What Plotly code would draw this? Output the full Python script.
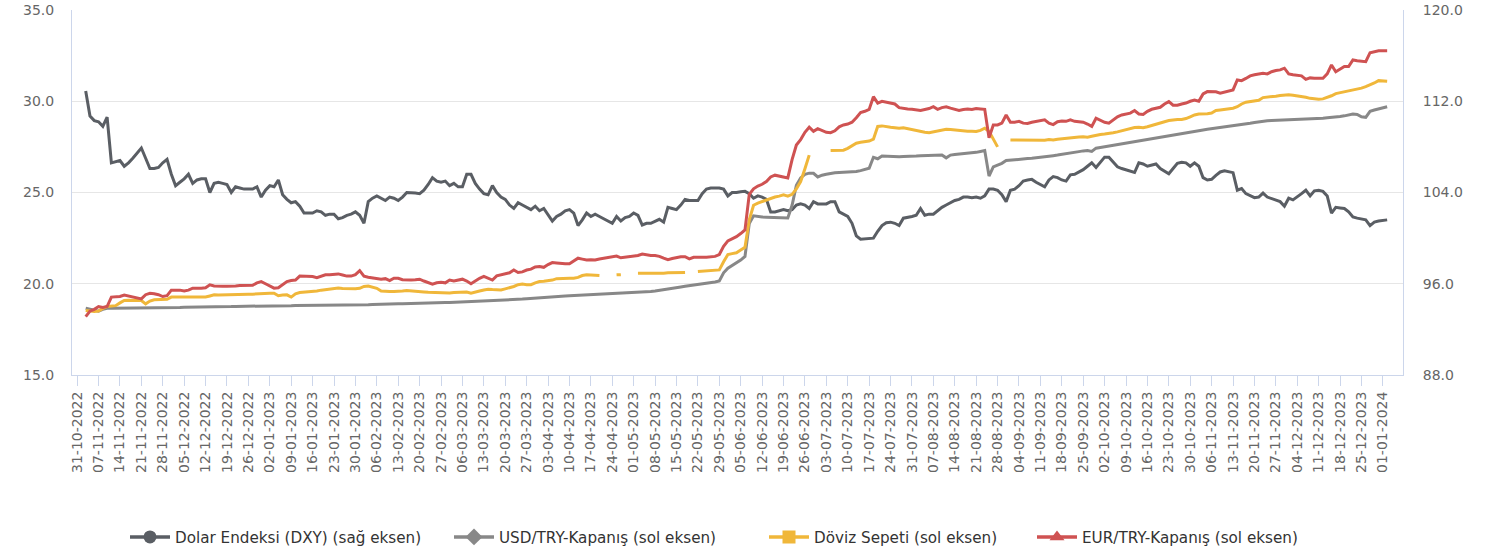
import pandas as pd
import plotly.graph_objects as go

# ---- categories (business days) ----
START_DATE = "2022-10-31"
N_CATS = 311
categories = list(pd.bdate_range(start=START_DATE, periods=N_CATS).strftime("%d-%m-%Y"))
FIRST, LAST = 2, 306            # first / last category carrying data
dates = categories[FIRST:LAST + 1]
tick_labels = categories[0:LAST:5]

# ---- series values ----
dxy = [
    112.9, 110.7, 110.3,
    110.2, 109.8, 110.6, 106.6, 106.7,
    106.8, 106.3, 106.6, 107.0, 107.5,
    107.9, 107.0, 106.1, 106.1, 106.2,
    106.6, 106.9, 105.6, 104.6, 104.9,
    105.2, 105.6, 104.8, 105.1, 105.2,
    105.2, 104.0, 104.8, 104.9, 104.8,
    104.7, 104.0, 104.5, 104.4, 104.3,
    104.3, 104.3, 104.5, 103.6, 104.2,
    104.6, 104.5, 105.1, 103.8, 103.4,
    103.1, 103.2, 102.8, 102.2, 102.2,
    102.2, 102.4, 102.3, 102.0, 102.1,
    102.1, 101.7, 101.8, 102.0, 102.1,
    102.3, 102.0, 101.3, 103.2, 103.5,
    103.7, 103.5, 103.3, 103.6, 103.5,
    103.3, 103.6, 104.0, 104.0, 103.95,
    103.9, 104.2, 104.7, 105.3, 105.0,
    104.9, 105.0, 104.6, 104.8, 104.5,
    104.5, 105.6, 105.6, 104.8, 104.3,
    103.9, 103.8, 104.6, 104.0, 103.6,
    103.4, 102.9, 102.6, 103.1, 102.9,
    102.7, 102.5, 102.8, 102.4, 102.6,
    102.0, 101.5, 101.9, 102.1, 102.4,
    102.5, 102.2, 101.1, 101.6, 102.2,
    101.9, 102.1, 101.9, 101.7, 101.5,
    101.3, 101.9, 101.5, 101.8, 101.9,
    102.2, 102.0, 101.15, 101.3, 101.3,
    101.5, 101.65, 101.4, 102.7, 102.6,
    102.5, 102.9, 103.4, 103.3, 103.3,
    103.3, 103.9, 104.3, 104.4, 104.4,
    104.4, 104.3, 103.7, 104.0, 104.0,
    104.07, 104.1, 103.9, 103.5, 103.7,
    103.6, 103.4, 102.3, 102.3, 102.4,
    102.5, 102.4, 102.5, 102.9, 103.0,
    102.9, 102.6, 103.2, 103.0, 103.0,
    103.0, 103.2, 103.2, 102.3, 102.1,
    101.9, 101.3, 100.2, 99.9, 99.95,
    100.0, 100.0, 100.6, 101.1, 101.35,
    101.4, 101.3, 101.1, 101.75, 101.8,
    101.9, 102.0, 102.6, 102.0, 102.1,
    102.1, 102.4, 102.7, 102.9, 103.1,
    103.3, 103.4, 103.6, 103.6, 103.55,
    103.6, 103.5, 103.7, 104.3, 104.3,
    104.2, 103.8, 103.2, 104.2, 104.3,
    104.6, 105.0, 105.1, 105.15, 104.9,
    104.7, 104.5, 105.1, 105.4, 105.3,
    105.1, 105.0, 105.55, 105.6, 105.8,
    106.0, 106.3, 106.6, 106.2, 106.7,
    107.1, 107.1, 106.7, 106.25, 106.1,
    106.0, 105.9, 105.75, 106.6, 106.5,
    106.3, 106.4, 106.5, 106.1, 105.9,
    105.65, 106.1, 106.55, 106.65, 106.6,
    106.3, 106.6, 106.3, 105.3, 105.1,
    105.16, 105.5, 105.8, 105.9, 105.8,
    105.74, 104.2, 104.35, 103.9, 103.7,
    103.55, 103.6, 103.95, 103.6, 103.45,
    103.35, 103.2, 102.8, 103.5, 103.35,
    103.6, 103.9, 104.2, 103.7, 104.15,
    104.2, 104.1, 103.7, 102.2, 102.7,
    102.65, 102.6, 102.3, 101.85, 101.75,
    101.7, 101.6, 101.1, 101.4, 101.5,
    101.55, 101.6,
]

usdtry = [
    18.66, 18.60, 18.52,
    18.50, 18.60, 18.66, 18.66, 18.66,
    18.67, 18.67, 18.67, 18.68, 18.68,
    18.68, 18.68, 18.69, 18.69, 18.69,
    18.69, 18.70, 18.70, 18.70, 18.70,
    18.71, 18.71, 18.71, 18.72, 18.72,
    18.72, 18.73, 18.73, 18.74, 18.74,
    18.75, 18.75, 18.76, 18.76, 18.77,
    18.77, 18.77, 18.78, 18.78, 18.78,
    18.79, 18.79, 18.79, 18.80, 18.80,
    18.80, 18.81, 18.81, 18.81, 18.82,
    18.82, 18.82, 18.82, 18.83, 18.83,
    18.83, 18.84, 18.84, 18.84, 18.84,
    18.85, 18.85, 18.85, 18.85, 18.86,
    18.86, 18.86, 18.87, 18.88, 18.89,
    18.90, 18.91, 18.92, 18.93, 18.94,
    18.94, 18.94, 18.95, 18.95, 18.96,
    18.96, 18.97, 18.97, 18.98, 18.98,
    18.99, 19.00, 19.01, 19.02, 19.03,
    19.04, 19.05, 19.06, 19.07, 19.08,
    19.09, 19.10, 19.12, 19.14, 19.16,
    19.18, 19.20, 19.22, 19.24, 19.26,
    19.28, 19.30, 19.31, 19.32, 19.33,
    19.34, 19.35, 19.36, 19.38, 19.40,
    19.42, 19.43, 19.44, 19.45, 19.46,
    19.47, 19.48, 19.48, 19.49, 19.50,
    19.51, 19.52, 19.53, 19.55, 19.57,
    19.60, 19.63, 19.67, 19.71, 19.75,
    19.79, 19.82, 19.86, 19.89, 19.92,
    19.95, 19.99, 20.03, 20.06, 20.10,
    20.15, 20.60, 20.85, 21.00, 21.15,
    21.30, 21.50, 23.30, 23.72, 23.68,
    23.66, 23.65, 23.64, 23.63, 23.62,
    23.60, 23.60, 24.30, 25.40, 25.80,
    26.00, 26.06, 26.05, 25.85, 25.95,
    26.00, 26.06, 26.08, 26.10, 26.11,
    26.12, 26.14, 26.15, 26.20, 26.28,
    26.33, 26.93, 26.85, 27.00, 26.98,
    26.97, 26.97, 26.96, 26.97, 26.97,
    26.98, 27.00, 27.02, 27.03, 27.04,
    27.05, 27.06, 27.06, 26.90, 27.05,
    27.08, 27.10, 27.13, 27.15, 27.18,
    27.20, 27.25, 27.30, 25.90, 26.40,
    26.50, 26.60, 26.75, 26.78, 26.80,
    26.82, 26.84, 26.86, 26.88, 26.90,
    26.93, 26.96, 26.99, 27.02, 27.05,
    27.08, 27.12, 27.15, 27.20, 27.24,
    27.28, 27.30, 27.25, 27.43, 27.47,
    27.51, 27.55, 27.60, 27.65, 27.70,
    27.74, 27.78, 27.82, 27.86, 27.90,
    27.94, 27.98, 28.02, 28.06, 28.10,
    28.15, 28.18, 28.21, 28.24, 28.28,
    28.32, 28.36, 28.40, 28.43, 28.46,
    28.49, 28.52, 28.55, 28.58, 28.61,
    28.64, 28.68, 28.72, 28.76, 28.80,
    28.84, 28.88, 28.90, 28.93, 28.94,
    28.95, 28.96, 28.96, 28.97, 28.97,
    28.98, 28.98, 29.00, 29.02, 29.03,
    29.05, 29.07, 29.09, 29.10, 29.12,
    29.16, 29.20, 29.25, 29.30, 29.28,
    29.15, 29.12, 29.45, 29.52, 29.58,
    29.64, 29.70,
]

doviz_sepeti = [
    18.53, 18.5, 18.48,
    18.5, 18.65, 18.75, 18.78, 18.8,
    18.95, 19.08, 19.1, 19.08, 19.08,
    19.08, 18.9, 19.05, 19.12, 19.12,
    19.12, 19.15, 19.27, 19.27, 19.28,
    19.26, 19.25, 19.27, 19.26, 19.27,
    19.27, 19.33, 19.39, 19.38, 19.38,
    19.39, 19.38, 19.39, 19.39, 19.4,
    19.42, 19.43, 19.45, 19.45, 19.47,
    19.48, 19.48, 19.34, 19.38, 19.39,
    19.27, 19.45, 19.52, 19.53, 19.55,
    19.57, 19.6, 19.65, 19.68, 19.7,
    19.72, 19.76, 19.74, 19.73, 19.72,
    19.72, 19.75, 19.85, 19.88, 19.82,
    19.75, 19.6, 19.57, 19.58, 19.58,
    19.57, 19.6, 19.63, 19.6, 19.58,
    19.57, 19.55, 19.53, 19.52, 19.52,
    19.5, 19.48, 19.5, 19.52, 19.53,
    19.55, 19.55, 19.48, 19.52, 19.6,
    19.66, 19.7, 19.68, 19.65, 19.66,
    19.72, 19.78, 19.85, 19.95, 19.98,
    19.95, 19.95, 20.05, 20.12, 20.14,
    20.17, 20.2, 20.28, 20.3, 20.3,
    20.3, 20.3, 20.35, 20.45, 20.49,
    20.48, 20.46, 20.45, None, None,
    None, 20.49, 20.5, None, None,
    None, 20.58, 20.6, 20.58, 20.58,
    20.57, 20.58, 20.58, 20.6, 20.6,
    20.6, 20.62, 20.62, None, None,
    20.67, 20.68, 20.7, 20.72, 20.74,
    20.76, 21.2, 21.6, 21.65, 21.7,
    21.85, 22.0, 23.5, 24.3, 24.42,
    24.5, 24.58, 24.7, 24.75, 24.8,
    24.87, 24.8, 24.9, 25.2, 25.6,
    26.3, 27.05, None, None, None,
    None, 27.3, 27.3, 27.3, 27.32,
    27.42, 27.55, 27.7, 27.75, 27.78,
    27.82, 27.92, 28.62, 28.65, 28.6,
    28.58, 28.55, 28.52, 28.55, 28.5,
    28.42, 28.38, 28.35, 28.3, 28.28,
    28.32, 28.38, 28.42, 28.47, 28.45,
    28.42, 28.4, 28.38, 28.36, 28.35,
    28.34, 28.4, 28.52, 28.35, 27.9,
    27.5, None, None, 27.88, 27.88,
    27.86, 27.85, 27.84, 27.84, 27.84,
    27.84, 27.86, 27.9, 27.88, 27.92,
    27.95, 27.97, 28.0, 28.03, 28.04,
    28.05, 28.03, 28.08, 28.15, 28.18,
    28.2, 28.22, 28.27, 28.32, 28.39,
    28.45, 28.5, 28.56, 28.58, 28.55,
    28.6, 28.68, 28.75, 28.83, 28.88,
    28.94, 28.98, 29.0, 29.0, 29.05,
    29.15, 29.25, 29.3, 29.3, 29.32,
    29.35, 29.49, 29.52, 29.55, 29.6,
    29.62, 29.7, 29.85, 29.95, 29.98,
    30.0, 30.05, 30.2, 30.22, 30.23,
    30.28, 30.32, 30.35, 30.36, 30.33,
    30.3, 30.28, 30.22, 30.16, 30.12,
    30.11, 30.13, 30.2, 30.3, 30.42,
    30.47, 30.52, 30.55, 30.6, 30.65,
    30.72, 30.8, 30.88, 31.0, 31.13,
    31.12, 31.1,
]

eurtry = [
    18.2, 18.5, 18.6,
    18.75, 18.7, 18.75, 19.27, 19.27,
    19.3, 19.38, 19.33, 19.28, 19.2,
    19.17, 19.4, 19.48, 19.45, 19.4,
    19.3, 19.35, 19.65, 19.67, 19.65,
    19.6, 19.65, 19.76, 19.75, 19.76,
    19.78, 19.94, 19.88, 19.85, 19.86,
    19.86, 19.85, 19.88, 19.9, 19.9,
    19.9, 19.92, 20.05, 20.12, 20.0,
    19.9, 19.76, 19.78, 19.95, 20.12,
    20.18, 20.2, 20.42, 20.42, 20.4,
    20.4, 20.33, 20.42, 20.49, 20.5,
    20.52, 20.54, 20.48, 20.42, 20.42,
    20.5, 20.72, 20.42, 20.36, 20.32,
    20.3, 20.25, 20.28, 20.17, 20.3,
    20.3, 20.22, 20.2, 20.2, 20.22,
    20.25, 20.15, 20.05, 19.98, 20.05,
    20.08, 20.05, 20.2, 20.15, 20.2,
    20.25, 20.15, 20.0, 20.15, 20.3,
    20.4, 20.3, 20.2, 20.43, 20.48,
    20.54, 20.6, 20.75, 20.62, 20.65,
    20.75, 20.8, 20.92, 20.95, 20.9,
    21.05, 21.16, 21.14, 21.1, 21.1,
    21.1, 21.25, 21.4, 21.35, 21.3,
    21.32, 21.3, 21.36, 21.4, 21.42,
    21.45, 21.52, 21.42, 21.45, 21.45,
    21.5, 21.55, 21.63, 21.58, 21.55,
    21.55, 21.5, 21.4, 21.32, 21.38,
    21.45, 21.48, 21.48, 21.36, 21.45,
    21.47, 21.45, 21.45, 21.47, 21.5,
    21.6, 22.05, 22.35, 22.45, 22.58,
    22.75, 22.95, 24.9, 25.2, 25.35,
    25.45, 25.6, 25.85, 25.95, 25.9,
    25.85, 25.8, 26.8, 27.6, 27.9,
    28.3, 28.58, 28.35, 28.5, 28.4,
    28.3, 28.28, 28.38, 28.6, 28.7,
    28.75, 28.85, 29.1, 29.38, 29.45,
    29.55, 30.25, 29.9, 30.0, 29.95,
    29.92, 29.85, 29.65, 29.6, 29.58,
    29.56, 29.55, 29.5, 29.55, 29.6,
    29.7, 29.56, 29.65, 29.7, 29.62,
    29.55, 29.5, 29.55, 29.58, 29.55,
    29.6, 29.58, 29.56, 28.0, 28.7,
    28.7, 28.8, 29.25, 28.85, 28.85,
    28.9, 28.8, 28.78, 28.85, 28.9,
    28.95, 28.98, 28.8, 28.72, 28.88,
    28.92, 28.9, 28.98, 28.9, 28.88,
    28.85, 28.75, 28.62, 29.07, 28.95,
    28.85, 28.8, 29.0, 29.15, 29.25,
    29.28, 29.35, 29.49, 29.3, 29.28,
    29.45, 29.56, 29.62, 29.67, 29.85,
    29.98, 29.78, 29.78, 29.85, 29.9,
    30.0, 30.07, 30.0, 30.4, 30.53,
    30.53, 30.52, 30.44, 30.5, 30.58,
    30.62, 31.17, 31.13, 31.25, 31.39,
    31.45, 31.5, 31.53, 31.5, 31.62,
    31.68, 31.72, 31.81, 31.5, 31.45,
    31.42, 31.39, 31.2, 31.28, 31.26,
    31.25, 31.26, 31.5, 31.99, 31.62,
    31.75, 31.9, 31.9, 32.26, 32.22,
    32.2, 32.17, 32.66, 32.72, 32.77,
    32.77, 32.77,
]

for s in (dxy, usdtry, doviz_sepeti, eurtry):
    assert len(s) == len(dates), len(s)

# ---- styling ----
FONT = "DejaVu Sans"
C_DXY = "#5a5e64"
C_USD = "#888888"
C_SEP = "#f0b73a"
C_EUR = "#cf5252"
AXIS_LINE = "#ccd6eb"
GRID = "#e6e6e6"
W, H = 1497, 550

fig = go.Figure()

series = [
    ("Dolar Endeksi (DXY) (sağ eksen)", dxy, C_DXY, "y", "circle"),
    ("USD/TRY-Kapanış (sol eksen)", usdtry, C_USD, "y2", "diamond"),
    ("Döviz Sepeti (sol eksen)", doviz_sepeti, C_SEP, "y2", "square"),
    ("EUR/TRY-Kapanış (sol eksen)", eurtry, C_EUR, "y2", "triangle-up"),
]

for name, vals, col, yax, sym in series:
    fig.add_trace(go.Scatter(
        x=dates, y=vals, name=name, mode="lines", yaxis=yax,
        line=dict(color=col, width=3), connectgaps=False, showlegend=False,
        hovertemplate="%{x}: %{y}<extra>" + name + "</extra>",
    ))

# legend entries (line + marker symbol), each in its own positioned legend
legend_ids = ["legend", "legend2", "legend3", "legend4"]
legend_px = [133, 457, 772, 1040]      # left edge of each legend symbol
for (name, vals, col, yax, sym), lid in zip(series, legend_ids):
    fig.add_trace(go.Scatter(
        x=[None], y=[None], name=name, mode="lines+markers", yaxis=yax,
        line=dict(color=col, width=3.5),
        marker=dict(symbol=sym, size=13, color=col),
        showlegend=True, legend=lid,
    ))

legend_layout = {}
for lid, px in zip(legend_ids, legend_px):
    legend_layout[lid] = dict(
        orientation="h", xref="container", x=(px - 8) / W, xanchor="left",
        yref="container", y=1 - 537 / H, yanchor="middle",
        font=dict(family=FONT, size=15.2, color="#333333"),
        itemwidth=40, bgcolor="rgba(0,0,0,0)", borderwidth=0,
    )

fig.update_layout(
    width=W, height=H, autosize=False,
    margin=dict(l=72, r=94, t=10, b=175, autoexpand=False),
    paper_bgcolor="white", plot_bgcolor="white",
    font=dict(family=FONT, size=14, color="#666666"),
    showlegend=True,
    xaxis=dict(
        type="category", categoryorder="array", categoryarray=categories,
        range=[-1.2, 309.7], automargin=False,
        tickmode="array", tickvals=tick_labels, ticktext=tick_labels,
        tickangle=-90, tickfont=dict(family=FONT, size=14, color="#666666"),
        showline=True, linecolor=AXIS_LINE, linewidth=1,
        ticks="outside", ticklen=10, tickcolor=AXIS_LINE, tickwidth=1,
        showgrid=False, zeroline=False,
    ),
    yaxis=dict(
        side="right", range=[88, 120], tickmode="array", automargin=False,
        tickvals=[88, 96, 104, 112, 120], tickformat=".1f",
        showgrid=True, gridcolor=GRID, gridwidth=1,
        showline=True, linecolor=AXIS_LINE, linewidth=1,
        zeroline=False, ticks="", ticklabelstandoff=16,
        tickfont=dict(family=FONT, size=14, color="#666666"),
    ),
    yaxis2=dict(
        side="left", overlaying="y", range=[15, 35], tickmode="array",
        automargin=False,
        tickvals=[15, 20, 25, 30, 35], tickformat=".1f",
        showgrid=False, showline=True, linecolor=AXIS_LINE, linewidth=1,
        zeroline=False, ticks="", ticklabelstandoff=14,
        tickfont=dict(family=FONT, size=14, color="#666666"),
    ),
    **legend_layout,
)

fig.write_html(
    "out.html",
    config={"displayModeBar": False},
    post_script="document.body.style.margin='0';document.body.style.overflow='hidden';",
)
